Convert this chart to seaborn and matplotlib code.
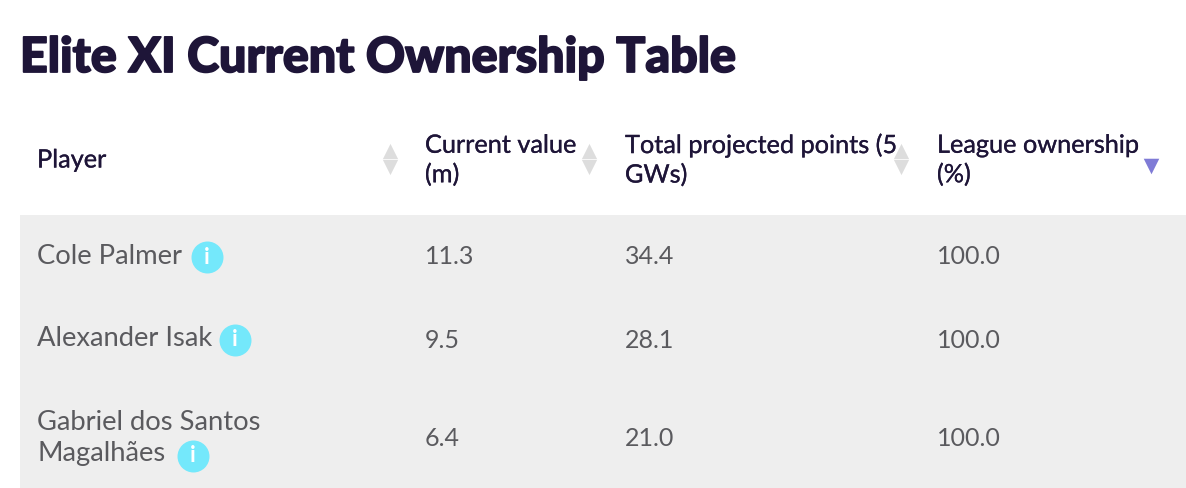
import matplotlib
matplotlib.use("Agg")
import matplotlib.patheffects as pe
import matplotlib.pyplot as plt
import pandas as pd
import seaborn as sns

TITLE = "Elite XI Current Ownership Table"
HEADERS = ["Player", "Current value\n(m)", "Total projected points (5\nGWs)", "League ownership\n(%)"]
PLAYERS = ["Cole Palmer", "Alexander Isak", "Gabriel dos Santos\nMagalhães"]
VALUES = ["11.3", "9.5", "6.4"]
POINTS = ["34.4", "28.1", "21.0"]
OWNERSHIP = ["100.0", "100.0", "100.0"]

# layout in pixels
COL_X = [37, 425, 625, 937]
ROW_Y = [257, 340, 439]
NAME_Y = [256.5, 339, 422]
NAME_STEP = 32
ICON_X = [207, 235, 193]
ICON_Y = [257, 340, 456]
SORT_X = [390, 589, 901]
HEAD_Y = 160
INK = "#1e1538"
BODY = "#5a5a5e"

sns.set_theme(style="white")
plt.rcParams["font.family"] = ["Lato", "DejaVu Sans"]

fig = plt.figure(figsize=(11.86, 4.88), dpi=100)
ax = fig.add_axes([0, 0, 1, 1])

ax.axhspan(215, 488, xmin=20 / 1186, xmax=1, color="#eeeeee", lw=0, zorder=0)

ax.text(20, 58, TITLE, fontsize=34.8, fontweight="black", color=INK, va="center", ha="left",
        path_effects=[pe.withStroke(linewidth=1.3, foreground=INK)])

for x, label in zip(COL_X, HEADERS):
    ax.text(x, HEAD_Y, label, fontsize=18.2, color=INK, va="center", ha="left", linespacing=1.32,
            path_effects=[pe.withStroke(linewidth=0.2, foreground=INK)])

for i in range(len(PLAYERS)):
    # wrapped names go line by line so the icon can sit after the last line
    for k, line in enumerate(PLAYERS[i].split("\n")):
        ax.text(COL_X[0], NAME_Y[i] + k * NAME_STEP, line, fontsize=19.7, color=BODY, va="center", ha="left")
    ax.text(COL_X[1], ROW_Y[i], VALUES[i], fontsize=18, color=BODY, va="center", ha="left")
    ax.text(COL_X[2], ROW_Y[i], POINTS[i], fontsize=18, color=BODY, va="center", ha="left")
    ax.text(COL_X[3], ROW_Y[i], OWNERSHIP[i], fontsize=18, color=BODY, va="center", ha="left")

icons = pd.DataFrame({"x": ICON_X, "y": ICON_Y})
sns.scatterplot(data=icons, x="x", y="y", ax=ax, s=530, color="#74e8fb", linewidth=0, legend=False, zorder=3)
for x, y in zip(ICON_X, ICON_Y):
    ax.text(x, y, "i", fontsize=16, fontweight="bold", color="white", ha="center", va="center", zorder=4)

arrows = pd.DataFrame({"x": SORT_X, "up": [151] * 3, "down": [167] * 3})
sns.scatterplot(data=arrows, x="x", y="up", ax=ax, marker="^", s=120, color="#dddddd", linewidth=0, legend=False)
sns.scatterplot(data=arrows, x="x", y="down", ax=ax, marker="v", s=120, color="#dddddd", linewidth=0, legend=False)
ax.scatter([1151], [166], marker="v", s=125, color="#7f7bd6", linewidths=0)

ax.set_xlim(0, 1186)
ax.set_ylim(488, 0)
ax.axis("off")
fig.savefig("out.png", dpi=100)
